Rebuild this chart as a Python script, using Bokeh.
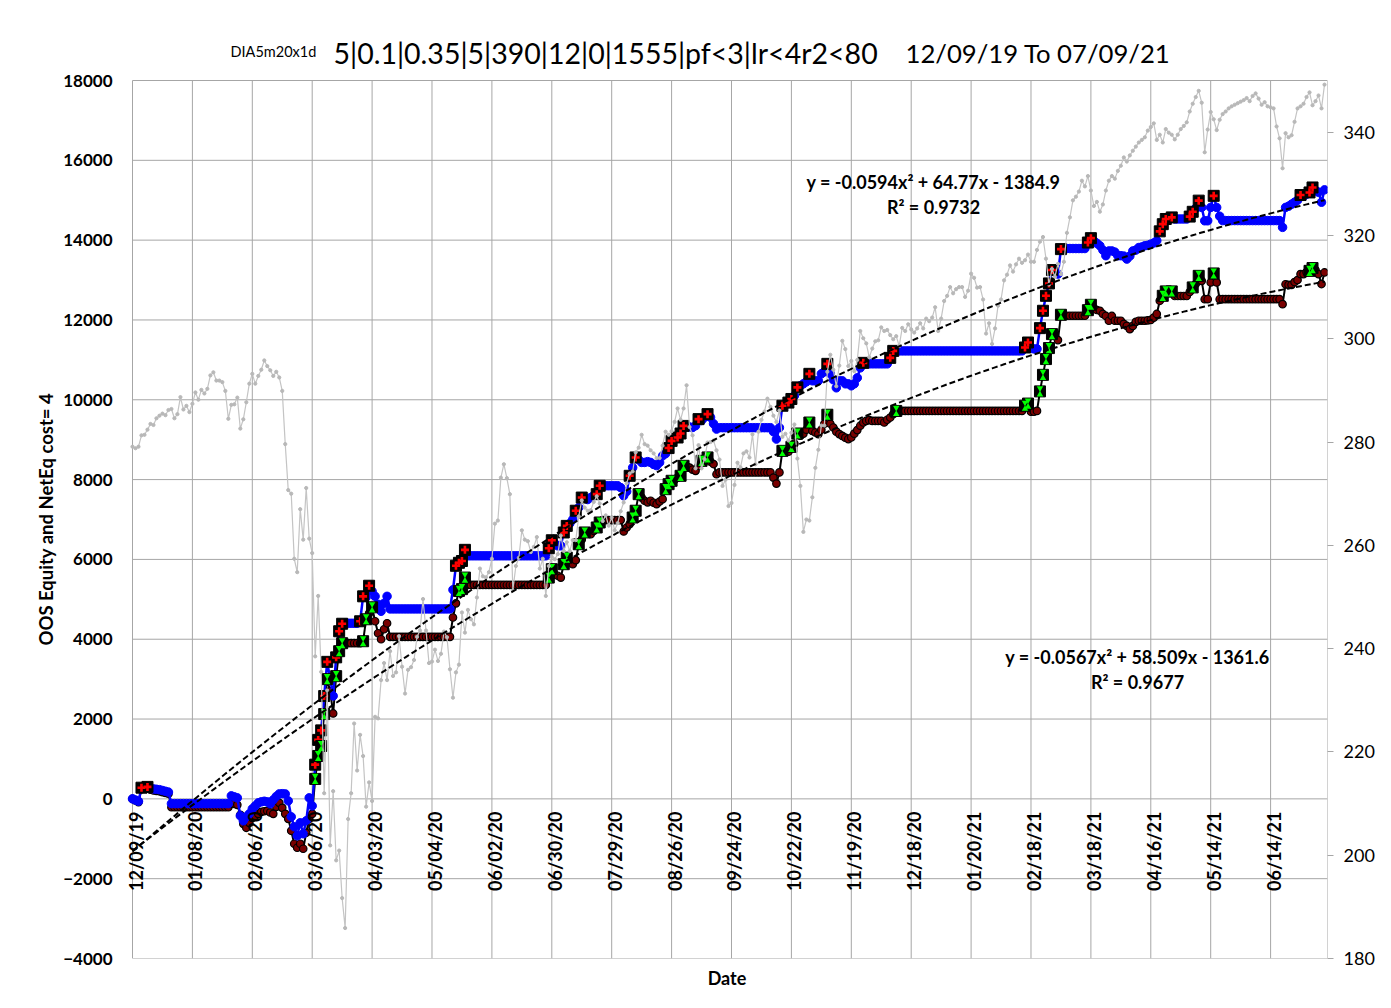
import math
from bokeh.plotting import figure
from bokeh.models import Range1d, LinearAxis, Label, LabelSet, FixedTicker, ColumnDataSource, Title
from bokeh.core.properties import value
from bokeh.embed import file_html
from bokeh.resources import INLINE

# ---------------- data ----------------
title_prefix = "DIA5m20x1d"
title_params = "5|0.1|0.35|5|390|12|0|1555|pf<3|lr<4r2<80"
title_dates = "12/09/19 To 07/09/21"
y_axis_title = "OOS Equity and NetEq cost= 4"
x_axis_title = "Date"

tick_labels = ["12/09/19", "01/08/20", "02/06/20", "03/06/20", "04/03/20", "05/04/20",
               "06/02/20", "06/30/20", "07/29/20", "08/26/20", "09/24/20", "10/22/20",
               "11/19/20", "12/18/20", "01/20/21", "02/18/21", "03/18/21", "04/16/21",
               "05/14/21", "06/14/21"]
tick_every = 20  # one date label every 20 trading days

# OOS equity (blue), one value per trading day
oos_equity = (
    [0, -30, -60, 280, 300, 300, 270, 250, 240, 230, 210, 190, 170]
    + [-120] * 20
    + [75, 50, 25, -425, -550, -450, -375, -250, -175, -100, -75, -60, -75, -125, -25,
       60, 125, 130, 125, -50, -450, -700, -925, -600, -875, -550, 25, -175]
    + [857, 1478, 1716, 2576, 3433, 3000, 2580, 3546, 4200, 4388]
    + [4400] * 5
    + [4450, 5075, 5050, 5340, 5200, 5075, 4875, 4700, 4900, 5075]
    + [4760] * 21
    + [5240, 5840, 5915, 5960, 6240]
    + [6090] * 27
    + [6280, 6480, 6400, 6340, 6340, 6675, 6840, 6900, 7000, 7220, 7300, 7550, 7550, 7500,
       7550, 7600, 7635, 7845]
    + [7845] * 6
    + [7800, 7595, 7700, 8095, 8300, 8555, 8500, 8430, 8430, 8450, 8430, 8380, 8350, 8430,
       8595, 8650, 8790, 8970, 9000, 9055, 9155, 9345, 9330, 9320, 9305, 9350, 9515, 9480,
       9560, 9640, 9560, 9400, 9265]
    + [9300] * 18
    + [9200, 9015, 9300, 9850, 9870, 9930, 10020, 10100, 10310, 10350, 10400, 10450, 10650,
       10475, 10475, 10475, 10650, 10700, 10900, 10650, 10500, 10300, 10475, 10475, 10400,
       10400, 10350, 10400, 10550, 10800, 10925]
    + [10900] * 8
    + [11050, 11225]
    + [11225] * 43
    + [11310, 11435, 11300, 11275, 11275, 11795, 12230, 12605, 12915, 13250, 13200, 13150, 13775]
    + [13790] * 8
    + [13940, 14050, 13980, 13920, 13860, 13750, 13610, 13730, 13730, 13700, 13610, 13610,
       13600, 13525, 13600, 13730, 13750, 13815, 13830, 13860, 13870, 13900, 13930, 13985]
    + [14220, 14400, 14530, 14540, 14570]
    + [14530] * 5
    + [14590, 14710, 14800, 14990, 14820, 14485, 14485, 14820, 15110, 14820, 14600]
    + [14490] * 20
    + [14320, 14820, 14850, 14900, 14950, 15000, 15130, 15100, 15150, 15195, 15320, 15250,
       15200, 14950, 15260]
)

# Net equity after costs (black / dark red)
net_equity = (
    [0, -40, -80, 240, 260, 260, 230, 210, 200, 190, 170, 150, 130]
    + [-210] * 20
    + [-125, -125, -150, -400, -625, -725, -600, -475, -425, -375, -325, -310, -300, -340,
       -375, -200, -100, -225, -375, -500, -800, -1125, -1225, -1125, -1250, -850, -500, -375]
    + [500, 1075, 1325, 2125, 3000, 2700, 2140, 3075, 3700, 3900]
    + [3900] * 6
    + [3950, 4500, 4650, 4800, 4450, 4150, 4000, 4250, 4400]
    + [4060] * 21
    + [4545, 4900, 5210, 5255, 5545]
    + [5360] * 27
    + [5545, 5755, 5620, 5590, 5545, 5880, 6045, 5950, 5880, 5980, 6380, 6500, 6675, 6650,
       6630, 6715, 6800, 6925]
    + [6985] * 7
    + [6700, 6800, 6885, 7050, 7220, 7635, 7550, 7470, 7430, 7470, 7420, 7385, 7450, 7510,
       7760, 7885, 7970, 8000, 8050, 8095, 8345, 8330, 8300, 8250, 8220, 8350, 8470, 8500,
       8555, 8450, 8390, 8135]
    + [8180] * 18
    + [8050, 7900, 8180, 8720, 8750, 8700, 8820, 8900, 9155, 9100, 9150, 9250, 9430, 9220,
       9180, 9140, 9250, 9400, 9625, 9400, 9305, 9200, 9140, 9095, 9050, 9015, 9055, 9150,
       9240, 9350, 9430, 9470, 9490]
    + [9470] * 4
    + [9430, 9500, 9555, 9640, 9720]
    + [9720] * 42
    + [9850, 9905, 9700, 9700, 9720, 10210, 10625, 11020, 11295, 11645, 11600, 11495, 12130]
    + [12105] * 8
    + [12245, 12380, 12300, 12250, 12230, 12150, 12100, 11980, 12100, 11980, 11980, 11980,
       11900, 11850, 11770, 11850, 11950, 11980, 11980, 11980, 11990, 12000, 12060, 12150]
    + [12480, 12605, 12715, 12680, 12715]
    + [12600] * 5
    + [12700, 12815, 12900, 13105, 12980, 12520, 12520, 12940, 13165, 12940, 12520]
    + [12520] * 20
    + [12395, 12895, 12880, 12880, 12950, 13000, 13150, 13150, 13200, 13230, 13300, 13250,
       13150, 12900, 13190]
)

# trading-day positions flagged with the red "+" (new OOS equity highs)
equity_high_days = [3, 5, 61, 62, 63, 64, 65, 68, 69, 70, 76, 77, 79, 108, 109, 110, 111,
                    139, 140, 144, 145, 148, 150, 155, 156, 166, 168, 179, 180, 182, 183, 184,
                    189, 192, 217, 219, 220, 222, 226, 232, 244, 253, 254, 298, 299, 303, 304,
                    305, 306, 307, 310, 319, 320, 343, 344, 345, 347, 353, 354, 356, 361, 390,
                    393, 394]
# trading-day positions flagged with the green marker (new net equity highs)
net_high_days = [61, 62, 63, 64, 65, 68, 69, 70, 77, 78, 80, 109, 110, 111, 139, 140, 144,
                 145, 149, 151, 155, 156, 167, 168, 169, 178, 179, 180, 183, 184, 190, 192,
                 217, 220, 222, 226, 232, 255, 298, 299, 303, 304, 305, 306, 307, 310, 319,
                 320, 344, 345, 347, 354, 356, 361, 393, 394]

# DIA close (grey, right axis)
dia_close = (
    [279.1, 278.8, 279.1, 281.3, 281.4, 282.4, 283.5, 283.3, 284.6, 285.1, 285.5, 285.2,
     286.2, 286.4, 284.6, 285.4]
    + [288.7, 286.3, 287.0, 285.8, 287.4, 289.6, 288.2, 290.1, 289.4, 290.3, 292.9, 293.5,
       291.9, 291.9, 291.6, 289.9, 284.5, 287.2, 287.3, 288.6, 282.6]
    + [284.4, 287.7, 291.3, 293.2, 291.3, 292.8, 294.0, 295.8, 294.7, 293.9, 292.8, 293.6,
       292.5, 289.9, 279.6, 270.7, 270.0, 257.4, 254.8]
    + [267.0, 261.1, 271.1, 261.3, 258.5, 238.5, 250.2, 235.5, 212.0, 231.9, 201.9, 212.4,
       199.0, 200.9, 191.7, 185.9, 207.0, 212.0, 225.5, 216.4, 223.3, 219.2]
    + [209.4, 214.1, 210.5, 226.8, 226.5, 233.9, 237.2, 233.9, 239.5, 234.7, 235.4, 242.4,
       236.5, 231.3, 235.9, 236.4, 237.8, 242.3, 243.5, 249.6, 243.5]
    + [237.2, 237.5, 239.8, 237.6, 239.0, 243.3, 242.2, 236.0, 230.5, 235.4, 236.9, 247.0,
       243.1, 247.5, 245.7, 244.7, 249.9, 255.5, 254.0, 253.8]
    + [254.8, 257.4, 264.2, 264.8, 273.1, 275.7, 273.0, 269.9, 251.3, 256.0, 257.6, 262.9,
       261.1, 260.8, 258.7, 259.7, 261.6, 255.5, 257.4, 250.2, 256.0, 257.8]
    + [257.3, 258.3, 261.9, 258.9, 260.6, 258.9, 261.0, 261.0, 265.6, 268.7, 267.3, 266.7,
       266.8, 268.4, 269.5, 268.1, 264.7, 265.8, 263.8, 265.4, 262.9, 264.3]
    + [266.6, 268.3, 272.0, 273.9, 274.3, 278.0, 278.9, 281.4, 279.6, 279.3, 278.4, 277.8,
       276.9, 276.9, 279.3, 282.0, 281.4, 282.1, 283.9, 286.5, 284.3]
    + [286.5, 291.0, 282.9, 281.3, 274.9, 279.4, 274.9, 276.7, 279.9, 280.0, 280.3, 278.4,
       276.6, 271.5, 272.7, 267.6, 268.2, 271.7, 276.0, 275.1, 277.8]
    + [278.2, 277.0, 281.5, 275.7, 282.0, 284.3, 285.9, 288.4, 286.8, 285.1, 283.9, 286.1,
       281.0, 281.6, 280.3, 281.8, 283.4, 276.8, 271.5, 262.6, 265.0, 264.8]
    + [269.3, 275.0, 278.5, 283.2, 283.2, 293.6, 296.9, 294.0, 290.8, 294.8, 299.6, 298.0,
       294.7, 295.7, 293.7, 295.9, 301.5, 300.1, 299.1, 296.4]
    + [298.1, 299.5, 299.7, 302.2, 301.5, 301.7, 300.7, 299.9, 300.5, 298.6, 302.1, 301.5,
       302.8, 301.8, 301.2, 302.0, 303.0, 302.0, 303.9, 303.4, 304.1, 306.1]
    + [301.5, 303.9, 307.3, 308.3, 310.0, 308.8, 309.6, 310.0, 310.0, 308.1, 309.3, 312.6,
       311.8, 309.9, 310.0, 307.6, 301.0, 303.0, 299.0]
    + [302.0, 306.4, 307.6, 311.3, 312.4, 314.2, 313.0, 314.4, 315.5, 314.7, 315.2, 316.3,
       314.9, 314.9, 317.2, 318.8, 319.7, 315.5, 310.5]
    + [313.5, 312.0, 314.5, 312.5, 314.9, 320.5, 323.5, 326.8, 327.5, 328.5, 330.6, 329.5,
       331.5, 328.7, 325.7, 326.5, 324.6, 326.0, 328.7, 330.6, 331.5, 331.0, 332.5]
    + [333.5, 335.1, 334.3, 335.5, 336.4, 337.2, 338.0, 338.5, 339.0, 340.3, 341.0, 341.7,
       338.5, 339.5, 338.0, 340.6, 339.9, 339.5, 338.6, 339.5, 340.6]
    + [341.2, 341.9, 344.0, 345.5, 346.8, 348.0, 345.7, 336.1, 340.5, 343.9, 342.5, 340.4,
       342.4, 343.5, 344.0, 344.6, 345.0, 345.3, 345.6, 345.9]
    + [346.2, 346.6, 346.0, 347.0, 347.5, 346.5, 345.3, 345.8, 345.0, 344.8, 344.6, 341.1,
       338.8, 333.0, 339.8, 339.0, 339.4, 342.0, 344.6, 345.0, 345.5, 346.8]
    + [347.7, 345.2, 346.0, 347.1, 344.6, 349.2]
)

# polynomial trendlines shown on the chart (coefficients a, b, c of a*x^2 + b*x + c)
equity_trend_coef = [-0.0594, 64.77, -1384.9]
net_trend_coef = [-0.0567, 58.509, -1361.6]
equity_trend_text = ["y = -0.0594x² + 64.77x - 1384.9", "R² = 0.9732"]
net_trend_text = ["y = -0.0567x² + 58.509x - 1361.6", "R² = 0.9677"]

left_range = (-4000, 18000)
left_step = 2000
right_range = (180, 350)
right_ticks = [180, 200, 220, 240, 260, 280, 300, 320, 340]

# ---------------- layout constants (pixels) ----------------
FONT = "Lato"
GRID = "#a6a6a6"
W, H = 1385, 1000
AX_L, AX_R, AX_T, AX_B = 132, 1327, 80, 958      # the chart's axis box
FR_L, FR_T = 126, 22                               # frame extends a bit left/up for texts
BL, BT, BR, BB = FR_L, FR_T, W - AX_R, H - AX_B

n = len(oos_equity)
xs = list(range(n))

x_per_px = n / (AX_R - AX_L)
y_per_px = (left_range[1] - left_range[0]) / (AX_B - AX_T)
r_per_px = (right_range[1] - right_range[0]) / (AX_B - AX_T)
x0 = -(AX_L - FR_L) * x_per_px
y_top = left_range[1] + (AX_T - FR_T) * y_per_px
r_top = right_range[1] + (AX_T - FR_T) * r_per_px

p = figure(width=W, height=H, x_range=Range1d(x0, n), y_range=Range1d(left_range[0], y_top),
           output_backend="svg", toolbar_location=None,
           min_border_left=BL, min_border_right=BR, min_border_top=BT, min_border_bottom=BB,
           background_fill_color="white", border_fill_color="white")
p.outline_line_color = None
p.xgrid.visible = False
p.ygrid.visible = False

left_ticks = list(range(left_range[0], left_range[1] + 1, left_step))
tick_pos = [i * tick_every for i in range(len(tick_labels))]

# grid / axis box
p.segment(x0=[0] * len(left_ticks), x1=[n] * len(left_ticks), y0=left_ticks, y1=left_ticks,
          line_color=GRID, line_width=1)
vx = tick_pos + [n]
p.segment(x0=vx, x1=vx, y0=[left_range[0]] * len(vx), y1=[left_range[1]] * len(vx),
          line_color=GRID, line_width=1)

# left axis (labels only)
lax = p.yaxis[0]
lax.ticker = FixedTicker(ticks=left_ticks)
lax.major_label_text_font = FONT
lax.major_label_text_font_size = "17px"
lax.major_label_text_font_style = "bold"
lax.major_label_text_color = "black"
lax.major_tick_out = 0
lax.major_tick_in = 0
lax.minor_tick_out = 0
lax.minor_tick_in = 0
lax.axis_line_color = None
lax.major_label_standoff = 14

ytitle = Title(text=y_axis_title, align="left", offset=AX_B - 645, standoff=8,
               text_font=FONT, text_font_size="18.5px", text_font_style="bold",
               text_color="black")
p.add_layout(ytitle, "left")

# bottom axis: only the "Date" title
bax = p.xaxis[0]
bax.ticker = FixedTicker(ticks=[])
bax.axis_line_color = None
bax.major_tick_out = 0
bax.minor_tick_out = 0
bax.axis_label = x_axis_title
bax.axis_label_text_font = FONT
bax.axis_label_text_font_size = "18px"
bax.axis_label_text_font_style = "bold"
bax.axis_label_text_color = "black"
bax.axis_label_standoff = 8

# right axis
p.extra_y_ranges = {"dia": Range1d(right_range[0], r_top)}
rax = LinearAxis(y_range_name="dia", ticker=FixedTicker(ticks=right_ticks))
rax.major_label_text_font = FONT
rax.major_label_text_font_size = "18px"
rax.major_label_text_color = "black"
rax.major_tick_out = 6
rax.major_tick_in = 0
rax.minor_tick_out = 0
rax.minor_tick_in = 0
rax.major_tick_line_color = GRID
rax.axis_line_color = None
rax.major_label_standoff = 10
p.add_layout(rax, "right")

# ---------------- series ----------------
p.line(xs, net_equity, line_color="black", line_width=2)
p.scatter(xs, net_equity, marker="circle", size=7.5, fill_color="#7a0000",
          line_color="black", line_width=1.2)
p.line(xs, oos_equity, line_color="#0000ff", line_width=2.5)
p.scatter(xs, oos_equity, marker="circle", size=8.5, fill_color="#0000ff", line_color="#0000ff")

ex = equity_high_days
ey = [oos_equity[i] for i in ex]
p.scatter(ex, ey, marker="square", size=11, fill_color="black", line_color="black")
p.scatter(ex, ey, marker="cross", size=8, line_color="#ff0000", line_width=2.6)

gx = net_high_days
gy = [net_equity[i] for i in gx]
dy = 3.2 * y_per_px
p.scatter(gx, gy, marker="square", size=11, fill_color="black", line_color="black")
p.scatter(gx, [v + dy for v in gy], marker="inverted_triangle", size=6.5,
          fill_color="#00ff00", line_color=None)
p.scatter(gx, [v - dy for v in gy], marker="triangle", size=6.5,
          fill_color="#00ff00", line_color=None)

p.line(xs, dia_close, y_range_name="dia", line_color="#c4c4c4", line_width=1.2)
p.scatter(xs, dia_close, y_range_name="dia", marker="circle", size=3.2,
          fill_color="#b8b8b8", line_color="#b8b8b8")

def poly(c, k):
    x = k + 1
    return c[0] * x * x + c[1] * x + c[2]

p.line(xs, [poly(equity_trend_coef, k) for k in xs], line_color="black", line_width=2,
       line_dash="6 3")
p.line(xs, [poly(net_trend_coef, k) for k in xs], line_color="black", line_width=2,
       line_dash="6 3")

# ---------------- texts (screen units are relative to the frame's bottom-left) ----------------
def fx(px):
    return px - FR_L

def fy(py):
    return AX_B - py

tick_src = ColumnDataSource(dict(x=tick_pos, y=[fy(811)] * len(tick_pos), t=tick_labels))
p.add_layout(LabelSet(x="x", y="y", text="t", source=tick_src, x_units="data", y_units="screen",
                      angle=math.pi / 2, text_align="right", text_baseline="middle",
                      x_offset=3, text_font=value(FONT), text_font_size=value("18px"),
                      text_font_style="bold", text_color="black"))

for txt, py in zip(equity_trend_text, [181, 206]):
    p.add_layout(Label(x=fx(933), y=fy(py), x_units="screen", y_units="screen", text=txt,
                       text_font=FONT, text_font_size="18px", text_font_style="bold",
                       text_align="center", text_baseline="middle", text_color="black"))
for txt, py in zip(net_trend_text, [656, 681]):
    p.add_layout(Label(x=fx(1137), y=fy(py), x_units="screen", y_units="screen", text=txt,
                       text_font=FONT, text_font_size="18px", text_font_style="bold",
                       text_align="center", text_baseline="middle", text_color="black"))

p.add_layout(Label(x=fx(230), y=fy(51), x_units="screen", y_units="screen", text=title_prefix,
                   text_font=FONT, text_font_size="14.5px", text_align="left",
                   text_baseline="alphabetic", text_color="black"))
p.add_layout(Label(x=fx(333), y=fy(52), x_units="screen", y_units="screen", text=title_params,
                   text_font=FONT, text_font_size="28.5px", text_align="left",
                   text_baseline="alphabetic", text_color="black"))
p.add_layout(Label(x=fx(905), y=fy(52), x_units="screen", y_units="screen", text=title_dates,
                   text_font=FONT, text_font_size="25.7px", text_align="left",
                   text_baseline="alphabetic", text_color="black"))

open("out.html", "w").write(file_html(p, INLINE))
